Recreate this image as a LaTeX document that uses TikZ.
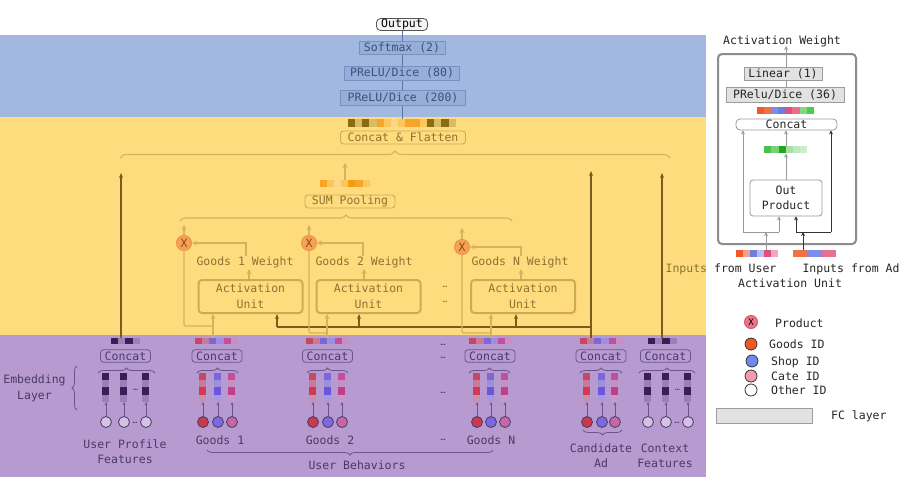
\documentclass[tikz,border=0pt]{standalone}
\usepackage{fontspec}
\setmainfont{DejaVu Sans Mono}
\usetikzlibrary{arrows.meta,decorations.pathreplacing,calc}
\definecolor{bandB}{HTML}{A2B8E0}
\definecolor{bandY}{HTML}{FEDC7E}
\definecolor{bandP}{HTML}{B79BD0}
\definecolor{outbd}{HTML}{555555}
\definecolor{outfill}{HTML}{F4F4F4}
\definecolor{blbd}{HTML}{7A90C0}
\definecolor{blfill}{HTML}{97ADDA}
\definecolor{bltext}{HTML}{3E5078}
\definecolor{blL}{HTML}{5F72A0}
\definecolor{ylL}{HTML}{D6B25C}
\definecolor{yltext}{HTML}{8C7232}
\definecolor{ylbd}{HTML}{CFAA52}
\definecolor{dkL}{HTML}{7A5C1C}
\definecolor{xfill}{HTML}{F5A258}
\definecolor{xbd}{HTML}{EE9444}
\definecolor{xtext}{HTML}{8A4A12}
\definecolor{puL}{HTML}{6A5590}
\definecolor{putext}{HTML}{4A3868}
\definecolor{grB}{HTML}{8C8C8C}
\definecolor{grL}{HTML}{9A9A9A}
\definecolor{fcfill}{HTML}{E2E2E2}
\definecolor{fcbd}{HTML}{9C9C9C}
% strips
\definecolor{sD}{HTML}{8A6A12}
\definecolor{sT}{HTML}{D8BC64}
\definecolor{sO}{HTML}{F6A52A}
\definecolor{sO2}{HTML}{F39C12}
\definecolor{sL}{HTML}{FBC65C}
\definecolor{sP}{HTML}{FDD68A}
\definecolor{pD}{HTML}{3A1E58}
\definecolor{pLt}{HTML}{9A80B8}
\definecolor{gR}{HTML}{C84860}
\definecolor{gRl}{HTML}{C87A98}
\definecolor{gRs}{HTML}{D03A50}
\definecolor{gRp}{HTML}{C890B0}
\definecolor{gB}{HTML}{7A68D8}
\definecolor{gBl}{HTML}{9E8EE0}
\definecolor{gBs}{HTML}{6A56D8}
\definecolor{gBp}{HTML}{A898E0}
\definecolor{gM}{HTML}{C0509A}
\definecolor{gMl}{HTML}{C890C0}
\definecolor{gMs}{HTML}{C03E8E}
\definecolor{gMp}{HTML}{C898C8}
\definecolor{cR}{HTML}{C83A50}
\definecolor{cB}{HTML}{7A6AE0}
\definecolor{cM}{HTML}{C468A8}
\definecolor{cW}{HTML}{D4C2E4}
\definecolor{rO}{HTML}{F05A28}
\definecolor{rO2}{HTML}{F07048}
\definecolor{rOl}{HTML}{F4A08A}
\definecolor{rB}{HTML}{7C8CE8}
\definecolor{rB2}{HTML}{6C7EE0}
\definecolor{rBl}{HTML}{B4BEF2}
\definecolor{rP}{HTML}{E0507A}
\definecolor{rP2}{HTML}{E8708E}
\definecolor{rPl}{HTML}{F0A8BC}
\definecolor{rG}{HTML}{7CDC7C}
\definecolor{rG2}{HTML}{4CCC4C}
\definecolor{gg1}{HTML}{4CC04C}
\definecolor{gg2}{HTML}{7CD07C}
\definecolor{gg3}{HTML}{1FA81F}
\definecolor{gg4}{HTML}{A8E0A8}
\definecolor{gg5}{HTML}{C0E8C0}
\definecolor{gg6}{HTML}{CCEECC}
\definecolor{lgP}{HTML}{EC7486}
\definecolor{lgPb}{HTML}{D06070}
\definecolor{lgG}{HTML}{F05A22}
\definecolor{lgS}{HTML}{7088F0}
\definecolor{lgC}{HTML}{F29AAE}

% horizontal colour strip: name, cx, cy, n, square width, height, colours
\newcommand{\colstrip}[7]{%
  \node[inner sep=0pt,minimum width={#4*#5},minimum height={#6}] (#1) at (#2,#3) {};
  \foreach \cc [count=\ii from 0] in {#7}
    \fill[\cc] ($(#1.north west)+(\ii*#5,0)$) rectangle ++(#5,#6);
}
% vertical embedding bar: name, cx, colours (4)
\newcommand{\embbar}[3]{%
  \node[inner sep=0pt,minimum width=7,minimum height=29] (#1) at (#2,387.5) {};
  \foreach \cc [count=\ii from 0] in {#3}
    \fill[\cc] ($(#1.north west)+(0,\ii*7.25)$) rectangle ++(7,7.25);
}

\tikzset{
  every node/.style={font=\fontsize{11.5}{13}\selectfont, inner sep=0pt},
  outbox/.style={draw=outbd, fill=outfill, rounded corners=4pt, line width=0.8pt, text=black},
  blbox/.style={draw=blbd, fill=blfill, text=bltext, line width=0.8pt},
  blline/.style={draw=blL, line width=0.9pt},
  ylbox/.style={draw=ylbd, rounded corners=3pt, line width=0.9pt, text=yltext},
  aubox/.style={draw=ylbd, rounded corners=3.5pt, line width=2pt, text=yltext, align=center,
    font=\fontsize{11.5}{16}\selectfont, minimum width=104, minimum height=33},
  yltxt/.style={text=yltext},
  ylline/.style={draw=ylL, line width=1.3pt},
  ylarr/.style={ylline, -{Stealth[length=5pt,width=5pt]}},
  ylbrace/.style={draw=ylL, line width=1.1pt, decorate},
  dkline/.style={draw=dkL, line width=1.2pt},
  dkarr/.style={dkline, -{Stealth[length=5pt,width=4pt]}},
  xcirc/.style={circle, fill=xfill, draw=xbd, line width=1pt, minimum size=15, text=xtext},
  pucat/.style={draw=puL, rounded corners=3pt, line width=0.8pt, text=putext, minimum width=50, minimum height=12.5},
  putxt/.style={text=putext},
  puline/.style={draw=puL, line width=0.8pt},
  puarr/.style={puline, -{Stealth[length=3pt,width=3pt]}},
  pubrace/.style={draw=puL, line width=0.8pt, decorate, decoration={brace, amplitude=5pt}},
  embc/.style={circle, draw=putext, line width=0.8pt, minimum size=11},
  dots/.style={font=\fontsize{8}{9}\selectfont},
  fcbox/.style={draw=fcbd, fill=fcfill, line width=0.8pt, text=black!85},
  rcbox/.style={draw=grL, fill=white, rounded corners=4pt, line width=0.8pt, text=black!85, align=center},
  grline/.style={draw=grL, line width=1pt},
  grarr/.style={grline, -{Stealth[length=4pt,width=4pt]}},
  bkline/.style={draw=black!80, line width=1pt},
  bkarr/.style={bkline, -{Stealth[length=4pt,width=4pt]}},
  rtxt/.style={text=black!85},
  lgc/.style={circle, draw=black!80, line width=0.8pt, minimum size=12},
}

\begin{document}
\begin{tikzpicture}[x=1pt,y=-1pt]
\useasboundingbox (0,0) rectangle (915,477);
\fill[white] (0,0) rectangle (915,477);
\fill[bandB] (0,34.5) rectangle (706,117);
\fill[bandY] (0,117) rectangle (706,335);
\fill[bandP] (0,335) rectangle (706,477);

% ================= top (blue) =================
\node[outbox, minimum width=51, minimum height=12] (out) at (402,24.5) {Output};
\colstrip{cfstrip}{402}{123}{15}{7.2}{8}{sD,sT,sD,sT,sO,sL,sP,sL,sO,sO,sL,sD,sT,sD,sT}
\draw[blline] (out.south) -- (cfstrip.north);
\node[blbox, minimum width=86, minimum height=13] (soft) at (402,47.5) {Softmax (2)};
\node[blbox, minimum width=115, minimum height=14] (p80) at (402,73) {PReLU/Dice (80)};
\node[blbox, minimum width=125, minimum height=15] (p200) at (403,97.5) {PReLU/Dice (200)};
\node[ylbox, minimum width=125, minimum height=13] (cf) at (403,137.5) {Concat \& Flatten};

% big brace under Concat & Flatten
\coordinate (bigL) at (120,158);
\coordinate (bigR) at (670,158);
\draw[ylbrace, decoration={brace, amplitude=7pt}] (bigL) -- (bigR);

% SUM pooling
\colstrip{sumstrip}{345}{184}{7}{7.1}{7}{sO,sL,sP,sL,sO2,sO,sL}
\coordinate (sumT) at (345,163);
\draw[ylarr] (sumstrip.north) -- (sumT);
\node[ylbox, minimum width=90, minimum height=13] (sum) at (350,201.5) {SUM Pooling};
\draw[ylbrace, decoration={brace, amplitude=6pt}] (180,221) -- (512,221);

% product circles
\node[xcirc] (x1) at (184,243) {X};
\node[xcirc] (x2) at (309,243) {X};
\node[xcirc] (x3) at (462,247) {X};
\coordinate (xa1) at (184,225);
\coordinate (xa2) at (309,225);
\coordinate (xa3) at (462,228);
\draw[ylarr] (x1.north) -- (xa1);
\draw[ylarr] (x2.north) -- (xa2);
\draw[ylarr] (x3.north) -- (xa3);

% weights
\node[yltxt] (w1) at (245,262) {Goods 1 Weight};
\node[yltxt] (w2) at (364,262) {Goods 2 Weight};
\node[yltxt] (w3) at (520,262) {Goods N Weight};
\coordinate (wc1) at (246,243);
\coordinate (wc2) at (363,243);
\coordinate (wc3) at (521,247);
\draw[ylarr] (w1.north -| wc1) -- (wc1) -- (x1.east);
\draw[ylarr] (w2.north -| wc2) -- (wc2) -- (x2.east);
\draw[ylarr] (w3.north -| wc3) -- (wc3) -- (x3.east);

% activation units
\node[aubox] (au1) at (250.5,296.5) {Activation\\Unit};
\node[aubox] (au2) at (368.5,296.5) {Activation\\Unit};
\node[aubox] (au3) at (523,296.5) {Activation\\Unit};
\coordinate (wa1) at (249,269);
\coordinate (wa2) at (364,269);
\coordinate (wa3) at (521,269);
\draw[ylarr] (au1.north -| wa1) -- (wa1);
\draw[ylarr] (au2.north -| wa2) -- (wa2);
\draw[ylarr] (au3.north -| wa3) -- (wa3);
\node[yltxt, dots] (dau1) at (445,287) {…};
\node[yltxt, dots] (dau2) at (445,302) {…};

% ================= bottom (purple) =================
% strips above concat
\colstrip{upstrip}{125.5}{341}{4}{7.2}{6}{pD,pLt,pD,pLt}
\colstrip{g1strip}{216.5}{341}{6}{7.2}{6}{gR,gRl,gB,gBl,gM,gMl}
\colstrip{g2strip}{327.5}{341}{6}{7.2}{6}{gR,gRl,gB,gBl,gM,gMl}
\colstrip{g3strip}{491}{341}{6}{7.2}{6}{gR,gRl,gB,gBl,gM,gMl}
\colstrip{adstrip}{601.5}{341}{6}{7.2}{6}{gR,gRl,gB,gBl,gM,gMl}
\colstrip{ctxstrip}{662.5}{341}{4}{7.2}{6}{pD,pLt,pD,pLt}

% concat boxes
\node[pucat] (upcat) at (125.5,356) {Concat};
\node[pucat] (g1cat) at (217,356) {Concat};
\node[pucat] (g2cat) at (327.5,356) {Concat};
\node[pucat] (g3cat) at (490,356) {Concat};
\node[pucat] (adcat) at (601,356) {Concat};
\node[pucat] (ctxcat) at (665.5,356) {Concat};

% small braces
\draw[pubrace] (98,373) -- (155,373);
\draw[pubrace] (197,373) -- (238,373);
\draw[pubrace] (307,373) -- (348,373);
\draw[pubrace] (469,373) -- (510,373);
\draw[pubrace] (580,373) -- (622,373);
\draw[pubrace] (639,373) -- (695,373);

% embedding bars and id circles
\foreach \x [count=\i] in {106,124,146} {
  \embbar{upb\i}{\x}{pD,pLt,pD,pLt}
  \node[embc, fill=cW] (upc\i) at (\x,422) {};
  \draw[puarr] (upc\i.north) -- (upb\i.south);
}
\foreach \x [count=\i] in {648,666,688} {
  \embbar{ctxb\i}{\x}{pD,pLt,pD,pLt}
  \node[embc, fill=cW] (ctxc\i) at (\x,422) {};
  \draw[puarr] (ctxc\i.north) -- (ctxb\i.south);
}
\foreach \g/\xa/\xb/\xc in {g1/203/218/232, g2/313/328/342, g3/477/491/505, ad/587/602/615} {
  \embbar{\g bR}{\xa}{gR,gRl,gRs,gRp}
  \embbar{\g bB}{\xb}{gB,gBl,gBs,gBp}
  \embbar{\g bM}{\xc}{gM,gMl,gMs,gMp}
  \node[embc, fill=cR] (\g cR) at (\xa,422) {};
  \node[embc, fill=cB] (\g cB) at (\xb,422) {};
  \node[embc, fill=cM] (\g cM) at (\xc,422) {};
  \draw[puarr] (\g cR.north) -- (\g bR.south);
  \draw[puarr] (\g cB.north) -- (\g bB.south);
  \draw[puarr] (\g cM.north) -- (\g bM.south);
}
\node[putxt, dots] (upd1) at (135.5,390) {…};
\node[putxt, dots] (upd2) at (135,423) {…};
\node[putxt, dots] (ctxd1) at (677.5,390) {…};
\node[putxt, dots] (ctxd2) at (677,423) {…};
\node[putxt, dots] (gd1) at (443,345) {…};
\node[putxt, dots] (gd2) at (443,358) {…};
\node[putxt, dots] (gd3) at (443,393) {…};
\node[putxt, dots] (gd4) at (443,440) {…};

% labels
\node[putxt, align=center, font=\fontsize{11.5}{16}\selectfont] (emb) at (34.5,388) {Embedding\\Layer};
\draw[pubrace] (77,410) -- (77,366);
\node[putxt, align=center, font=\fontsize{11.5}{15}\selectfont] (uplab) at (125,451.5) {User Profile\\Features};
\node[putxt] (g1lab) at (220,440) {Goods 1};
\node[putxt] (g2lab) at (330,440) {Goods 2};
\node[putxt] (g3lab) at (491,440) {Goods N};
\draw[pubrace] (493,450) -- (207,450);
\node[putxt] (ublab) at (357,465) {User Behaviors};
\draw[pubrace] (622,430) -- (583,430);
\node[putxt, align=center, font=\fontsize{11.5}{15}\selectfont] (adlab) at (601,455.5) {Candidate\\Ad};
\node[putxt, align=center, font=\fontsize{11.5}{15}\selectfont] (ctxlab) at (665,455.5) {Context\\Features};

% ================= connectors between layers =================
\coordinate (upT) at (121,173);
\coordinate (adT) at (591,171);
\coordinate (ctxT) at (662,173);
\draw[dkarr] (upstrip.north -| upT) -- (upT);
\draw[dkarr] (adstrip.north -| adT) -- (adT);
\draw[dkarr] (ctxstrip.north -| ctxT) -- (ctxT);
\coordinate (hjR) at (591,327);
\coordinate (d1) at (277,327);
\coordinate (d2) at (359,327);
\coordinate (d3) at (516,327);
\draw[dkline] (hjR) -- (d1);
\draw[dkarr] (d1) -- (d1 |- au1.south);
\draw[dkarr] (d2) -- (d2 |- au2.south);
\draw[dkarr] (d3) -- (d3 |- au3.south);

\coordinate (g1x) at (213,326);
\coordinate (g2x) at (327,333);
\coordinate (g3x) at (491,333);
\draw[ylarr] (g1strip.north -| g1x) -- (g1x |- au1.south);
\draw[ylarr] (g2strip.north -| g2x) -- (g2x |- au2.south);
\draw[ylarr] (g3strip.north -| g3x) -- (g3x |- au3.south);
\draw[ylline, rounded corners=2pt] (g1x) -- (g1x -| x1.south) -- (x1.south);
\draw[ylline, rounded corners=2pt] (g2x) -- (g2x -| x2.south) -- (x2.south);
\draw[ylline, rounded corners=2pt] (g3x) -- (g3x -| x3.south) -- (x3.south);

% ================= activation unit detail (right) =================
\node[draw=grB, line width=2pt, rounded corners=4pt, minimum width=138, minimum height=190] (aubig) at (787,149) {};
\node[rtxt] (awt) at (782,41) {Activation Weight};
\coordinate (awa) at (786,46);
\draw[grarr] (786,102) -- (awa);
\node[fcbox, minimum width=78, minimum height=13] (lin) at (783,73.5) {Linear (1)};
\node[fcbox, minimum width=118, minimum height=15] (prd) at (785,94.5) {PRelu/Dice (36)};
\colstrip{rstrip}{785.5}{111}{8}{7.1}{7}{rO,rO2,rB,rB2,rP,rP2,rG,rG2}
\node[rcbox, minimum width=101, minimum height=11] (rcat) at (786.5,124.5) {Concat};
\colstrip{gstrip}{786}{150}{6}{7.2}{7}{gg1,gg2,gg3,gg4,gg5,gg6}
\node[rcbox, rounded corners=3pt, minimum width=72, minimum height=36, font=\fontsize{11.5}{15}\selectfont] (op) at (786,198) {Out\\Product};
\draw[grarr] (op.north) -- (gstrip.south);
\draw[grarr] (gstrip.north) -- (rcat.south -| gstrip);
\colstrip{ustrip}{757}{254}{6}{7}{7}{rO,rOl,rB2,rBl,rP,rPl}
\colstrip{astrip}{814.5}{254}{6}{7.2}{7}{rO2,rO2,rB,rB,rP2,rP2}
\coordinate (jl) at (743,232);
\coordinate (jr) at (779,232);
\coordinate (ju) at (766,232);
\coordinate (kd) at (796,232);
\coordinate (kr) at (831,232);
\coordinate (ka) at (803,232);
\draw[grline] (jl) -- (jr);
\draw[grarr] (ustrip.north -| ju) -- (ju);
\draw[grarr] (jl) -- (jl |- rcat.south);
\draw[grarr] (jr) -- (jr |- op.south);
\draw[bkline] (kd) -- (kr);
\draw[bkarr] (astrip.north -| ka) -- (ka);
\draw[bkarr] (kd) -- (kd |- op.south);
\draw[bkarr] (kr) -- (kr |- rcat.south);
\begin{scope}
  \clip (706,250) rectangle (915,290);
  \node[rtxt] (inuser) at (721,269) {Inputs from User};
\end{scope}
\begin{scope}
  \clip (0,117) rectangle (706,335);
  \node[text=yltext] (inuserY) at (721,269) {Inputs from User};
\end{scope}
\node[rtxt] (inad) at (851,269) {Inputs from Ad};
\node[rtxt] (autxt) at (790,283) {Activation Unit};

% ================= legend =================
\node[circle, fill=lgP, draw=lgPb, line width=1pt, minimum size=13, text=black, font=\fontsize{9}{10}\selectfont] (lgp) at (751,322) {X};
\node[rtxt, anchor=west] (lgpt) at (775,323) {Product};
\node[lgc, fill=lgG] (lgg) at (751,344) {};
\node[rtxt, anchor=west] (lggt) at (769,344) {Goods ID};
\node[lgc, fill=lgS] (lgs) at (752,361) {};
\node[rtxt, anchor=west] (lgst) at (771,362) {Shop ID};
\node[lgc, fill=lgC] (lgcc) at (751,376) {};
\node[rtxt, anchor=west] (lgct) at (771,376) {Cate ID};
\node[lgc, fill=white] (lgo) at (751,390) {};
\node[rtxt, anchor=west] (lgot) at (771,390) {Other ID};
\node[fcbox, minimum width=96, minimum height=15] (lgfc) at (764,415.5) {};
\node[rtxt, anchor=west] (lgfct) at (831,416) {FC layer};
\end{tikzpicture}
\end{document}
